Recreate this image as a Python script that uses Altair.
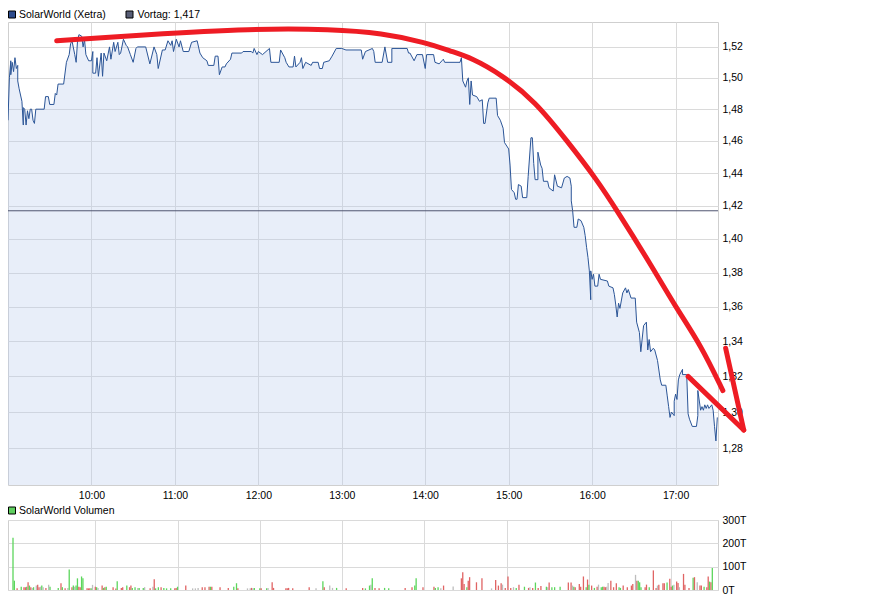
import altair as alt
import pandas as pd

DAY = "2012-03-15"

# ---------------- price (Xetra) ----------------
price_times = [
    "09:00", "09:01", "09:02", "09:02", "09:03", "09:04", "09:05", "09:06", "09:07", "09:07",
    "09:08", "09:10", "09:11", "09:11", "09:12", "09:13", "09:14", "09:15", "09:16", "09:17",
    "09:18", "09:19", "09:20", "09:26", "09:27", "09:29", "09:30", "09:33", "09:34", "09:35",
    "09:36", "09:40", "09:42", "09:44", "09:45", "09:46", "09:48", "09:49", "09:50", "09:51",
    "09:53", "09:54", "09:55", "09:56", "09:58", "10:00", "10:01", "10:01", "10:03", "10:04",
    "10:05", "10:07", "10:08", "10:09", "10:11", "10:13", "10:14", "10:16", "10:17", "10:19",
    "10:20", "10:21", "10:23", "10:25", "10:26", "10:28", "10:30", "10:32", "10:33", "10:39",
    "10:42", "10:45", "10:47", "10:48", "10:51", "10:53", "10:55", "10:57", "10:58", "10:59",
    "11:01", "11:03", "11:04", "11:06", "11:10", "11:12", "11:16", "11:18", "11:20", "11:23",
    "11:24", "11:28", "11:29", "11:31", "11:32", "11:34", "11:36", "11:37", "11:40", "11:41",
    "11:48", "11:49", "11:55", "11:56", "11:57", "11:59", "12:00", "12:03", "12:08", "12:09",
    "12:15", "12:16", "12:19", "12:20", "12:22", "12:25", "12:26", "12:27", "12:30", "12:31",
    "12:32", "12:34", "12:38", "12:39", "12:43", "12:44", "12:46", "12:47", "12:51", "12:53",
    "12:56", "13:00", "13:03", "13:14", "13:15", "13:17", "13:22", "13:23", "13:24", "13:29",
    "13:31", "13:33", "13:36", "13:36", "13:47", "13:48", "13:49", "13:52", "13:54", "13:58",
    "14:00", "14:01", "14:06", "14:07", "14:10", "14:12", "14:13", "14:14", "14:25", "14:26",
    "14:27", "14:29", "14:30", "14:31", "14:32", "14:33", "14:34", "14:37", "14:39", "14:41",
    "14:42", "14:43", "14:45", "14:46", "14:51", "14:52", "14:54", "14:56", "14:57", "15:00",
    "15:01", "15:02", "15:04", "15:05", "15:06", "15:07", "15:09", "15:10", "15:13", "15:14",
    "15:16", "15:17", "15:18", "15:19", "15:21", "15:21", "15:23", "15:24", "15:25", "15:28",
    "15:29", "15:32", "15:33", "15:35", "15:38", "15:40", "15:42", "15:44", "15:45", "15:45",
    "15:46", "15:47", "15:49", "15:50", "15:52", "15:54", "15:55", "15:56", "15:57", "15:58",
    "15:59", "15:59", "16:00", "16:01", "16:02", "16:04", "16:05", "16:06", "16:11", "16:12",
    "16:15", "16:16", "16:17", "16:18", "16:19", "16:20", "16:22", "16:24", "16:25", "16:26",
    "16:28", "16:31", "16:32", "16:34", "16:35", "16:37", "16:39", "16:40", "16:41", "16:42",
    "16:44", "16:45", "16:47", "16:49", "16:50", "16:53", "16:54", "16:55", "16:56", "16:57",
    "16:59", "16:59", "17:00", "17:01", "17:02", "17:03", "17:05", "17:05", "17:08", "17:09",
    "17:10", "17:12", "17:15", "17:16", "17:16", "17:18", "17:19", "17:20", "17:21", "17:22",
    "17:23", "17:24", "17:26", "17:27", "17:28", "17:29", "17:30",
]
price_values = [
    1.473, 1.500, 1.511, 1.502, 1.510, 1.504, 1.513, 1.506, 1.508, 1.498,
    1.493, 1.485, 1.470, 1.481, 1.480, 1.470, 1.479, 1.474, 1.480, 1.480,
    1.473, 1.471, 1.480, 1.480, 1.488, 1.488, 1.483, 1.483, 1.490, 1.489,
    1.496, 1.496, 1.510, 1.515, 1.522, 1.524, 1.515, 1.510, 1.524, 1.528,
    1.527, 1.520, 1.525, 1.515, 1.511, 1.511, 1.517, 1.503, 1.503, 1.513,
    1.501, 1.516, 1.501, 1.516, 1.511, 1.520, 1.512, 1.523, 1.517, 1.523,
    1.515, 1.516, 1.525, 1.521, 1.520, 1.515, 1.510, 1.519, 1.520, 1.520,
    1.509, 1.520, 1.515, 1.506, 1.518, 1.518, 1.524, 1.521, 1.524, 1.517,
    1.525, 1.520, 1.524, 1.517, 1.517, 1.523, 1.524, 1.516, 1.513, 1.511,
    1.508, 1.508, 1.514, 1.514, 1.502, 1.507, 1.507, 1.509, 1.512, 1.516,
    1.516, 1.517, 1.517, 1.516, 1.519, 1.515, 1.517, 1.515, 1.519, 1.510,
    1.510, 1.518, 1.513, 1.510, 1.507, 1.507, 1.514, 1.507, 1.510, 1.513,
    1.506, 1.510, 1.508, 1.510, 1.510, 1.506, 1.506, 1.510, 1.511, 1.514,
    1.519, 1.519, 1.518, 1.518, 1.512, 1.517, 1.519, 1.517, 1.510, 1.510,
    1.520, 1.510, 1.510, 1.519, 1.519, 1.516, 1.516, 1.511, 1.515, 1.515,
    1.506, 1.515, 1.515, 1.510, 1.509, 1.511, 1.512, 1.510, 1.510, 1.513,
    1.498, 1.494, 1.498, 1.500, 1.483, 1.498, 1.489, 1.488, 1.485, 1.486,
    1.471, 1.471, 1.484, 1.487, 1.487, 1.476, 1.473, 1.468, 1.459, 1.455,
    1.445, 1.430, 1.428, 1.424, 1.424, 1.433, 1.432, 1.425, 1.425, 1.438,
    1.462, 1.462, 1.446, 1.436, 1.436, 1.453, 1.445, 1.443, 1.435, 1.435,
    1.431, 1.429, 1.439, 1.432, 1.431, 1.437, 1.438, 1.437, 1.432, 1.423,
    1.417, 1.407, 1.407, 1.412, 1.411, 1.407, 1.402, 1.395, 1.389, 1.381,
    1.364, 1.381, 1.376, 1.379, 1.372, 1.372, 1.379, 1.376, 1.375, 1.372,
    1.371, 1.367, 1.361, 1.354, 1.362, 1.359, 1.368, 1.371, 1.368, 1.370,
    1.365, 1.365, 1.351, 1.345, 1.334, 1.349, 1.351, 1.335, 1.341, 1.334,
    1.336, 1.335, 1.329, 1.318, 1.315, 1.315, 1.309, 1.303, 1.297, 1.300,
    1.298, 1.306, 1.310, 1.307, 1.318, 1.321, 1.324, 1.321, 1.321, 1.299,
    1.296, 1.292, 1.292, 1.298, 1.312, 1.301, 1.303, 1.301, 1.304, 1.302,
    1.304, 1.302, 1.304, 1.301, 1.292, 1.284, 1.297,
]
vortag = 1.417

# hand-drawn red annotation (time, price)
red_arc_times = ["09:35", "10:38", "11:56", "12:53", "13:29", "14:00", "14:19", "14:33",
                 "14:55", "15:19", "15:42", "16:03", "16:18", "16:42", "17:01", "17:18", "17:34"]
red_arc_values = [1.524, 1.528, 1.532, 1.5316, 1.529, 1.523, 1.517, 1.513,
                  1.502, 1.485, 1.460, 1.4365, 1.417, 1.385, 1.3585, 1.338, 1.312]
red_line2_times = ["17:09", "17:49"]
red_line2_values = [1.320, 1.290]
red_line3_times = ["17:36", "17:49"]
red_line3_values = [1.336, 1.290]

# ---------------- volume (thousands) ----------------
vol_times = [
    "09:00", "09:01", "09:03", "09:06", "09:08", "09:09", "09:10", "09:11", "09:12", "09:13",
    "09:14", "09:15", "09:17", "09:18", "09:19", "09:20", "09:21", "09:22", "09:24", "09:26",
    "09:27", "09:33", "09:35", "09:36", "09:38", "09:40", "09:41", "09:43", "09:44", "09:45",
    "09:46", "09:47", "09:48", "09:49", "09:50", "09:51", "09:54", "09:55", "09:56", "09:57",
    "09:58", "10:00", "10:01", "10:02", "10:05", "10:06", "10:07", "10:08", "10:13", "10:15",
    "10:16", "10:19", "10:20", "10:23", "10:25", "10:26", "10:27", "10:29", "10:31", "10:32",
    "10:35", "10:36", "10:40", "10:42", "10:43", "10:44", "10:46", "10:48", "10:50", "10:52",
    "10:55", "10:58", "10:59", "11:00", "11:06", "11:11", "11:13", "11:15", "11:18", "11:20",
    "11:23", "11:24", "11:25", "11:31", "11:37", "11:41", "11:43", "11:44", "11:51", "11:53",
    "11:54", "11:55", "11:56", "12:00", "12:01", "12:05", "12:06", "12:09", "12:10", "12:19",
    "12:20", "12:21", "12:24", "12:36", "12:41", "12:46", "12:47", "12:51", "12:53", "12:56",
    "13:03", "13:15", "13:17", "13:20", "13:21", "13:22", "13:24", "13:27", "13:31", "13:34",
    "13:46", "13:51", "13:53", "13:54", "13:59", "14:07", "14:08", "14:10", "14:12", "14:14",
    "14:21", "14:27", "14:28", "14:29", "14:31", "14:32", "14:33", "14:38", "14:42", "14:49",
    "14:52", "14:54", "14:56", "14:57", "14:59", "15:01", "15:03", "15:05", "15:07", "15:09",
    "15:13", "15:16", "15:17", "15:19", "15:21", "15:23", "15:25", "15:29", "15:30", "15:31",
    "15:33", "15:35", "15:39", "15:45", "15:47", "15:48", "15:49", "15:50", "15:53", "15:54",
    "15:56", "15:58", "15:59", "16:00", "16:02", "16:04", "16:06", "16:07", "16:09", "16:10",
    "16:11", "16:12", "16:13", "16:14", "16:16", "16:18", "16:20", "16:22", "16:23", "16:25",
    "16:28", "16:31", "16:32", "16:34", "16:35", "16:36", "16:37", "16:38", "16:41", "16:42",
    "16:44", "16:47", "16:49", "16:50", "16:51", "16:54", "16:55", "16:57", "16:59", "17:00",
    "17:01", "17:02", "17:04", "17:05", "17:06", "17:09", "17:10", "17:13", "17:16", "17:17",
    "17:19", "17:21", "17:22", "17:24", "17:26", "17:27", "17:28", "17:29", "17:30",
]
vol_values = [
    224, 40, 7, 14, 12, 12, 14, 33, 19, 12,
    9, 12, 19, 23, 12, 14, 19, 12, 9, 23,
    14, 9, 29, 12, 7, 9, 88, 12, 19, 14,
    19, 50, 14, 12, 58, 50, 7, 7, 7, 7,
    22, 14, 12, 9, 19, 9, 12, 14, 12, 6,
    37, 9, 12, 19, 12, 19, 9, 12, 9, 9,
    9, 12, 7, 14, 46, 7, 12, 12, 9, 7,
    7, 7, 9, 14, 19, 7, 7, 9, 12, 12,
    14, 14, 14, 12, 9, 14, 29, 7, 7, 7,
    9, 7, 9, 7, 7, 7, 9, 33, 9, 7,
    7, 9, 7, 12, 7, 37, 12, 19, 9, 9,
    7, 9, 7, 19, 23, 50, 9, 7, 9, 7,
    9, 12, 19, 50, 12, 14, 9, 12, 7, 19,
    15, 50, 76, 26, 12, 40, 55, 33, 50, 7,
    43, 19, 29, 23, 9, 58, 9, 12, 9, 23,
    14, 9, 12, 9, 32, 9, 17, 14, 12, 32,
    12, 12, 14, 32, 32, 19, 14, 12, 26, 14,
    58, 12, 45, 22, 19, 9, 14, 23, 12, 14,
    14, 12, 14, 30, 40, 12, 29, 12, 9, 19,
    12, 19, 26, 65, 40, 40, 33, 12, 12, 23,
    12, 84, 9, 19, 23, 29, 29, 32, 48, 14,
    19, 23, 36, 30, 12, 69, 23, 9, 52, 55,
    33, 19, 19, 14, 12, 58, 36, 33, 94,
]
vol_dirs = [
    "up", "up", "down", "up", "down", "down", "up", "down", "up", "down",
    "flat", "up", "flat", "down", "down", "flat", "up", "flat", "down", "flat",
    "up", "up", "down", "up", "down", "flat", "up", "down", "up", "flat",
    "up", "up", "down", "down", "up", "up", "down", "down", "down", "up",
    "flat", "down", "up", "flat", "down", "up", "down", "up", "down", "down",
    "up", "down", "down", "up", "down", "down", "up", "up", "flat", "up",
    "up", "flat", "down", "flat", "down", "up", "up", "down", "up", "up",
    "up", "down", "down", "up", "down", "flat", "flat", "flat", "down", "down",
    "down", "up", "down", "down", "down", "up", "up", "down", "flat", "flat",
    "down", "flat", "up", "up", "down", "up", "flat", "down", "down", "down",
    "down", "down", "down", "down", "flat", "up", "down", "flat", "flat", "up",
    "down", "down", "up", "up", "flat", "up", "down", "down", "up", "up",
    "down", "down", "up", "up", "down", "down", "up", "up", "flat", "down",
    "flat", "down", "down", "down", "up", "down", "down", "down", "down", "flat",
    "down", "down", "down", "flat", "down", "down", "down", "flat", "up", "down",
    "up", "down", "flat", "down", "up", "down", "down", "up", "flat", "down",
    "up", "up", "up", "down", "down", "flat", "up", "down", "down", "down",
    "down", "up", "down", "up", "down", "up", "down", "flat", "up", "up",
    "down", "down", "flat", "flat", "down", "down", "down", "up", "up", "down",
    "down", "down", "down", "flat", "down", "up", "up", "up", "down", "down",
    "up", "down", "down", "flat", "down", "down", "down", "up", "down", "down",
    "up", "flat", "down", "down", "flat", "down", "down", "down", "up", "down",
    "flat", "down", "down", "up", "down", "down", "up", "down", "up",
]

price_ticks = [1.28, 1.30, 1.32, 1.34, 1.36, 1.38, 1.40, 1.42, 1.44, 1.46, 1.48, 1.50, 1.52]
vol_ticks = [0, 100, 200, 300]
hours = [10, 11, 12, 13, 14, 15, 16, 17]


def ts(t):
    return f"{DAY}T{t}:00"


price_df = pd.DataFrame({"t": [ts(t) for t in price_times], "p": price_values,
                         "i": list(range(len(price_times)))})
red_rows = []
for seg, (tt, vv) in enumerate([(red_arc_times, red_arc_values),
                                (red_line2_times, red_line2_values),
                                (red_line3_times, red_line3_values)]):
    for k, (t, v) in enumerate(zip(tt, vv)):
        red_rows.append({"t": ts(t), "p": v, "seg": seg, "i": k})
red_df = pd.DataFrame(red_rows)
vol_df = pd.DataFrame({"t": [ts(t) for t in vol_times], "v": vol_values, "d": vol_dirs})
one = pd.DataFrame({"a": [0]})
ref_df = pd.DataFrame({"p": [vortag]})

FONT = "Liberation Sans"
FS = 10.5
W = 710
P_LOW = 1.26
P_HIGH = 1.5363

xdom = [alt.DateTime(year=2012, month=3, date=15, hours=9, minutes=0),
        alt.DateTime(year=2012, month=3, date=15, hours=17, minutes=30, seconds=30)]
hour_vals = [alt.DateTime(year=2012, month=3, date=15, hours=h) for h in hours]

x_price = alt.X("t:T", scale=alt.Scale(domain=xdom),
                axis=alt.Axis(values=hour_vals, format="%H:%M", title=None, grid=True,
                              ticks=False, tickSize=0, domain=False, labelPadding=5))
y_price = alt.Y("p:Q", stack=None,
                scale=alt.Scale(type="log", domain=[P_LOW, P_HIGH], nice=False),
                axis=alt.Axis(orient="right", values=price_ticks, title=None, ticks=False,
                              tickSize=0, domain=False, labelPadding=4,
                              labelExpr="replace(format(datum.value, '.2f'), '.', ',')"))

area = alt.Chart(price_df).mark_area(fill="#bbcded", fillOpacity=0.34, interpolate="linear").encode(
    x=x_price, y=y_price, y2=alt.datum(P_LOW))
line = alt.Chart(price_df).mark_line(color="#2b5597", strokeWidth=1).encode(
    x=x_price, y=y_price, order="i:Q")
ref = alt.Chart(ref_df).mark_rule(color="#4f5570", strokeWidth=1).encode(y="p:Q")
red = alt.Chart(red_df).mark_line(color="#ee1c24", strokeWidth=5, interpolate="basis",
                                  strokeCap="round", strokeJoin="round").encode(
    x="t:T", y="p:Q", detail="seg:N", order="i:Q")

LEG_Y = -7.5
leg1_sq = alt.Chart(one).mark_point(shape="square", filled=True, size=49, color="#2e4c8c",
                                    stroke="black", strokeWidth=1, opacity=1).encode(
    x=alt.value(4), y=alt.value(LEG_Y))
leg1_tx = alt.Chart(one).mark_text(align="left", baseline="middle", font=FONT, fontSize=FS,
                                   color="black").encode(
    x=alt.value(11), y=alt.value(LEG_Y), text=alt.value("SolarWorld (Xetra)"))
leg2_sq = alt.Chart(one).mark_point(shape="square", filled=True, size=49, color="#575d75",
                                    stroke="black", strokeWidth=1, opacity=1).encode(
    x=alt.value(121.5), y=alt.value(LEG_Y))
leg2_tx = alt.Chart(one).mark_text(align="left", baseline="middle", font=FONT, fontSize=FS,
                                   color="black").encode(
    x=alt.value(129.5), y=alt.value(LEG_Y), text=alt.value("Vortag: 1,417"))

price = alt.layer(area, line, ref, red, leg1_sq, leg1_tx, leg2_sq, leg2_tx).properties(
    width=W, height=463)

x_vol = alt.X("t:T", scale=alt.Scale(domain=xdom),
              axis=alt.Axis(values=hour_vals, labels=False, ticks=False, tickSize=0,
                            domain=False, title=None, grid=True))
y_vol = alt.Y("v:Q", scale=alt.Scale(domain=[0, 300], nice=False),
              axis=alt.Axis(orient="right", values=vol_ticks, title=None, ticks=False,
                            tickSize=0, domain=False, labelPadding=4,
                            labelExpr="datum.value + 'T'"))
bars = alt.Chart(vol_df).mark_bar(size=1.3).encode(
    x=x_vol, y=y_vol,
    color=alt.Color("d:N", scale=alt.Scale(domain=["up", "down", "flat"],
                                           range=["#5cd65c", "#e06464", "#bdbdbd"]),
                    legend=None))
VLEG_Y = -9.5
leg3_sq = alt.Chart(one).mark_point(shape="square", filled=True, size=49, color="#5fcf5f",
                                    stroke="black", strokeWidth=1, opacity=1).encode(
    x=alt.value(4), y=alt.value(VLEG_Y))
leg3_tx = alt.Chart(one).mark_text(align="left", baseline="middle", font=FONT, fontSize=FS,
                                   color="black").encode(
    x=alt.value(11), y=alt.value(VLEG_Y), text=alt.value("SolarWorld Volumen"))

volume = alt.layer(bars, leg3_sq, leg3_tx).properties(width=W, height=70)

chart = alt.vconcat(price, volume, spacing=35, bounds="flush").properties(
    padding={"left": -3, "top": 0, "right": 0, "bottom": 0}, background="white"
).configure_view(
    stroke="#cfcfcf", strokeWidth=1
).configure_axis(
    gridColor="#dadada", gridWidth=1, labelFont=FONT, labelFontSize=FS, labelColor="black"
)

chart.save("out.html", embed_options={"renderer": "svg", "actions": False})
